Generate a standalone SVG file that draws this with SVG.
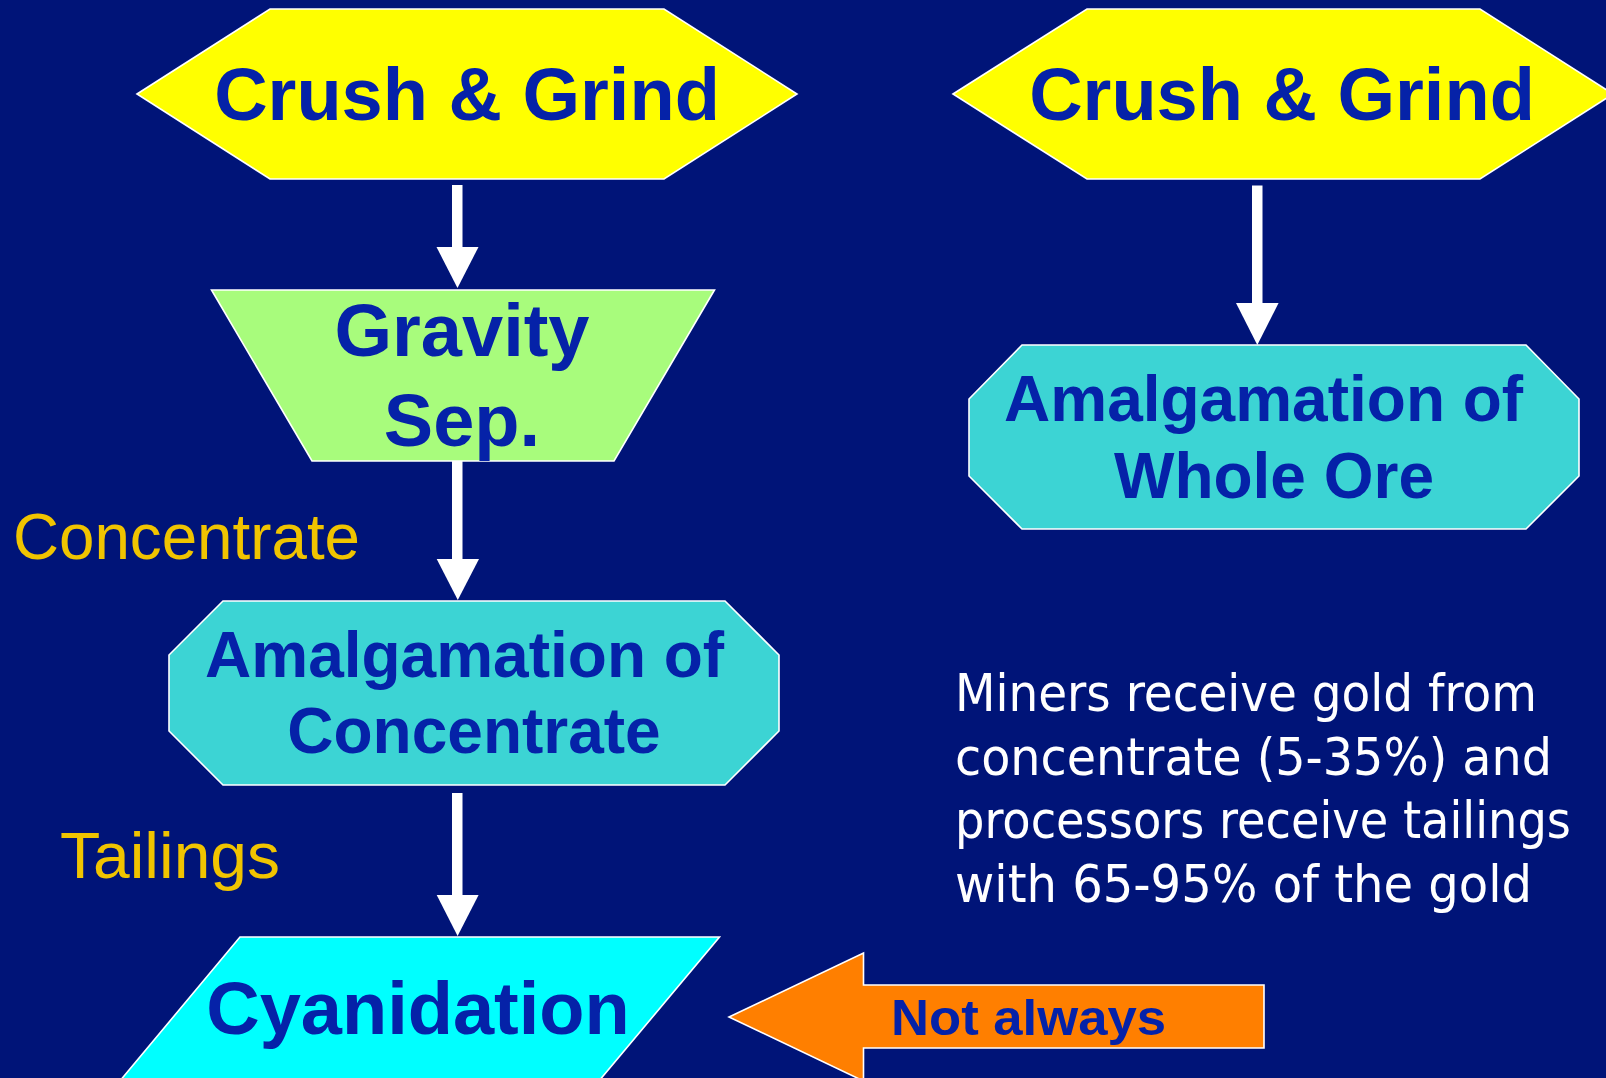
<svg xmlns="http://www.w3.org/2000/svg" width="1606" height="1078" viewBox="0 0 1606 1078">
<style>
.shape{stroke:#FFFFFF;stroke-width:1.6;stroke-linejoin:miter}
.lbl{font-family:"Liberation Sans",Arial,sans-serif;font-weight:bold;fill:#0522A8}
.side{font-family:"Liberation Sans",Arial,sans-serif;fill:#F0C400;font-size:64px}
.note{font-family:"DejaVu Sans Condensed","DejaVu Sans",sans-serif;font-stretch:condensed;fill:#FFFFFF;font-size:51px}
.conn{fill:#FFFFFF}
</style>
<rect x="0" y="0" width="1606" height="1078" fill="#001478"/>

<g id="connectors">
  <rect class="conn" x="452" y="185" width="10.5" height="63"/>
  <polygon class="conn" points="436.5,247 478.5,247 457.5,288"/>
  <rect class="conn" x="452" y="457" width="10.5" height="103"/>
  <polygon class="conn" points="436.7,559 479,559 457.8,600"/>
  <rect class="conn" x="452" y="793" width="10.5" height="103"/>
  <polygon class="conn" points="436.7,895 478.6,895 457.6,936"/>
  <rect class="conn" x="1252" y="185.5" width="10.5" height="118"/>
  <polygon class="conn" points="1236,303 1278.6,303 1257.3,345"/>
</g>

<g id="crush-left">
  <polygon class="shape" fill="#FFFF00" points="137,94 270,9 664,9 797,94 664,179 270,179"/>
  <text class="lbl" x="467" y="120" font-size="74" text-anchor="middle">Crush &amp; Grind</text>
</g>

<g id="crush-right">
  <polygon class="shape" fill="#FFFF00" points="953,94 1087,9 1480,9 1613,94 1480,179 1087,179"/>
  <text class="lbl" x="1282" y="120" font-size="74" text-anchor="middle">Crush &amp; Grind</text>
</g>

<g id="gravity">
  <polygon class="shape" fill="#A8FC7C" points="211.5,290 714.5,290 614,461 312,461"/>
  <text class="lbl" x="462" y="356" font-size="74" text-anchor="middle">Gravity</text>
  <text class="lbl" x="462" y="446" font-size="74" text-anchor="middle">Sep.</text>
</g>

<g id="amalg-concentrate">
  <polygon class="shape" fill="#3CD4D4" points="223,601 725,601 779,655 779,731 725,785 223,785 169,731 169,655"/>
  <text class="lbl" x="205" y="677" font-size="64">Amalgamation of</text>
  <text class="lbl" x="474" y="753" font-size="64" text-anchor="middle">Concentrate</text>
</g>

<g id="amalg-whole">
  <polygon class="shape" fill="#3CD4D4" points="1022,345 1526,345 1579,399 1579,476 1526,529 1022,529 969,476 969,399"/>
  <text class="lbl" x="1004" y="421" font-size="64">Amalgamation of</text>
  <text class="lbl" x="1274" y="498" font-size="64" text-anchor="middle">Whole Ore</text>
</g>

<g id="cyanidation">
  <polygon class="shape" fill="#00FFFF" points="240,937 719.5,937 583,1100 104,1100"/>
  <text class="lbl" x="418" y="1034" font-size="74" text-anchor="middle">Cyanidation</text>
</g>

<g id="not-always">
  <polygon class="shape" fill="#FF7F00" points="729,1017 863.5,953 863.5,985 1264,985 1264,1048 863.5,1048 863.5,1081"/>
  <text class="lbl" x="891" y="1035" font-size="50" textLength="275" lengthAdjust="spacingAndGlyphs">Not always</text>
</g>

<g id="side-labels">
  <text class="side" x="13" y="559" textLength="347" lengthAdjust="spacingAndGlyphs">Concentrate</text>
  <text class="side" x="60" y="878" textLength="220" lengthAdjust="spacingAndGlyphs">Tailings</text>
</g>

<g id="note">
  <text class="note" x="955" y="711" textLength="582" lengthAdjust="spacingAndGlyphs">Miners receive gold from</text>
  <text class="note" x="955" y="775" textLength="597" lengthAdjust="spacingAndGlyphs">concentrate (5-35%) and</text>
  <text class="note" x="955" y="838" textLength="616" lengthAdjust="spacingAndGlyphs">processors receive tailings</text>
  <text class="note" x="955" y="902" textLength="577" lengthAdjust="spacingAndGlyphs">with 65-95% of the gold</text>
</g>
</svg>
